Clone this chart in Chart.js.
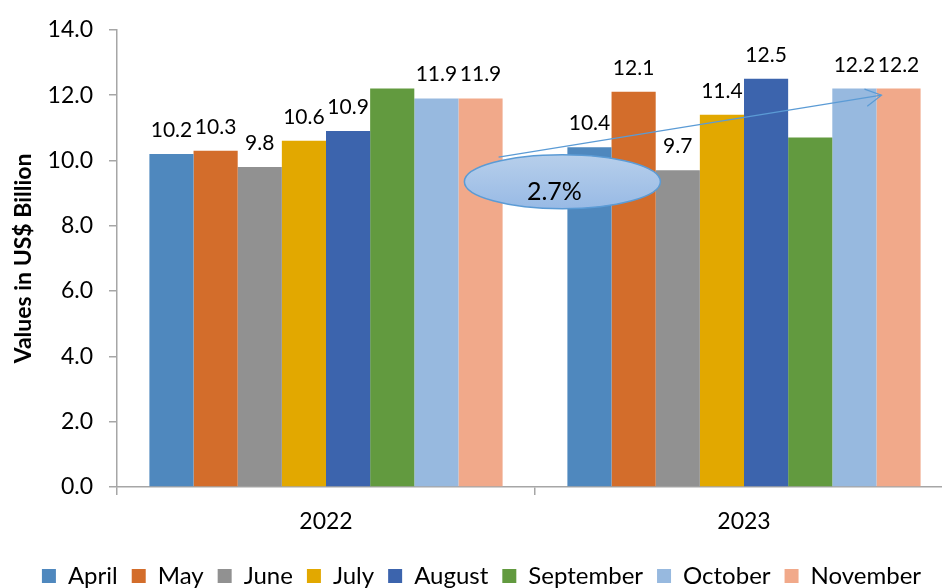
<!DOCTYPE html>
<html>
<head>
<meta charset="utf-8">
<script src="https://cdn.jsdelivr.net/npm/chart.js@4/dist/chart.umd.min.js"></script>
<style>
  html, body { margin: 0; padding: 0; background: #fff; overflow: hidden; }
  #wrap { width: 960px; height: 588px; }
</style>
</head>
<body>
<div id="wrap"><canvas id="chart" width="960" height="588"></canvas></div>
<script>
// data
const years = ['2022', '2023'];
const months = ['April', 'May', 'June', 'July', 'August', 'September', 'October', 'November'];
const april = [10.2, 10.4];
const may = [10.3, 12.1];
const june = [9.8, 9.7];
const july = [10.6, 11.4];
const august = [10.9, 12.5];
const september = [12.2, 10.7];
const october = [11.9, 12.2];
const november = [11.9, 12.2];
const yTicks = [0, 2, 4, 6, 8, 10, 12, 14];
const growthText = '2.7%';

const series = [april, may, june, july, august, september, october, november];
const colors = ['#4F88BE', '#D36D2B', '#919191', '#E2A800', '#3C64AD', '#629A3F', '#97B9DF', '#F1A98A'];
const showLabel = [true, true, true, true, true, false, true, true];

const FONT = 'Lato';
const axisColor = '#a6a6a6';

// value labels above the bars (September has none in the original)
const valueLabels = {
    id: 'valueLabels',
    afterDatasetsDraw(chart) {
        const ctx = chart.ctx;
        ctx.save();
        ctx.font = '21px ' + FONT;
        ctx.fillStyle = '#000';
        ctx.textAlign = 'center';
        ctx.textBaseline = 'alphabetic';
        chart.data.datasets.forEach((ds, i) => {
            if (!showLabel[i]) return;
            chart.getDatasetMeta(i).data.forEach((bar, j) => {
                ctx.fillText(ds.data[j].toFixed(1), bar.x, bar.y - 17);
            });
        });
        ctx.restore();
    }
};

// the ellipse with the growth figure and the arrow between the two Novembers
const growthNote = {
    id: 'growthNote',
    afterDraw(chart) {
        const ctx = chart.ctx;
        const y = chart.scales.y;
        const nov = chart.getDatasetMeta(7).data;
        const apr = chart.getDatasetMeta(0).data;

        // arrow
        const x1 = nov[0].x + nov[0].width / 2 - 4, y1 = y.getPixelForValue(10.1);
        const x2 = nov[1].x - nov[1].width / 2 + 5, y2 = y.getPixelForValue(12.0);
        ctx.save();
        ctx.strokeStyle = '#5B9BD5';
        ctx.lineWidth = 1.2;
        ctx.beginPath();
        ctx.moveTo(x1, y1);
        ctx.lineTo(x2, y2);
        const a = Math.atan2(y2 - y1, x2 - x1);
        const head = 18, spread = 0.5;
        ctx.moveTo(x2 - head * Math.cos(a - spread), y2 - head * Math.sin(a - spread));
        ctx.lineTo(x2, y2);
        ctx.lineTo(x2 - head * Math.cos(a + spread), y2 - head * Math.sin(a + spread));
        ctx.stroke();

        // ellipse
        const cx = apr[1].x - apr[1].width / 2 - 5;
        const cy = y.getPixelForValue(9.35);
        const rx = 98, ry = 27;
        const g = ctx.createLinearGradient(0, cy - ry, 0, cy + ry);
        g.addColorStop(0, '#B7CFEB');
        g.addColorStop(1, '#98BAE5');
        ctx.beginPath();
        ctx.ellipse(cx, cy, rx, ry, 0, 0, Math.PI * 2);
        ctx.fillStyle = g;
        ctx.fill();
        ctx.lineWidth = 1.5;
        ctx.stroke();

        ctx.fillStyle = '#000';
        ctx.font = '25px ' + FONT;
        ctx.textAlign = 'center';
        ctx.textBaseline = 'middle';
        ctx.fillText(growthText, cx - 8, cy + 10);
        ctx.restore();
    }
};

const ctx = document.getElementById('chart').getContext('2d');

new Chart(ctx, {
    type: 'bar',
    data: {
        labels: years,
        datasets: months.map((m, i) => ({
            label: m,
            data: series[i],
            backgroundColor: colors[i],
            borderWidth: 0,
            categoryPercentage: 0.845,
            barPercentage: 1.0
        }))
    },
    options: {
        responsive: false,
        animation: false,
        layout: { padding: { top: 9, right: 7, left: 10, bottom: -10 } },
        plugins: {
            legend: {
                position: 'bottom',
                labels: {
                    boxWidth: 14,
                    boxHeight: 14,
                    padding: 14,
                    color: '#000',
                    font: { family: FONT, size: 24 }
                }
            },
            tooltip: { enabled: false }
        },
        scales: {
            x: {
                grid: { drawOnChartArea: false, tickLength: 8, color: axisColor, lineWidth: 1.5 },
                border: { color: axisColor, width: 1.5 },
                ticks: { color: '#000', font: { family: FONT, size: 23 }, padding: 13 },
                afterFit(scale) {
                    scale.height = 63;
                }
            },
            y: {
                min: 0,
                max: 14,
                afterBuildTicks(scale) {
                    scale.ticks = yTicks.map(v => ({ value: v }));
                },
                afterFit(scale) {
                    scale.width = 107;
                },
                ticks: {
                    color: '#000',
                    font: { family: FONT, size: 23 },
                    padding: 16,
                    callback: v => Number(v).toFixed(1)
                },
                grid: { drawOnChartArea: false, tickLength: 8, color: axisColor, lineWidth: 1.5 },
                border: { color: axisColor, width: 1.5 },
                title: {
                    display: true,
                    text: 'Values in US$ Billion',
                    color: '#000',
                    font: { family: FONT, size: 23, weight: 'bold' },
                    padding: { top: 0, bottom: 0 }
                }
            }
        }
    },
    plugins: [valueLabels, growthNote]
});
</script>
</body>
</html>
